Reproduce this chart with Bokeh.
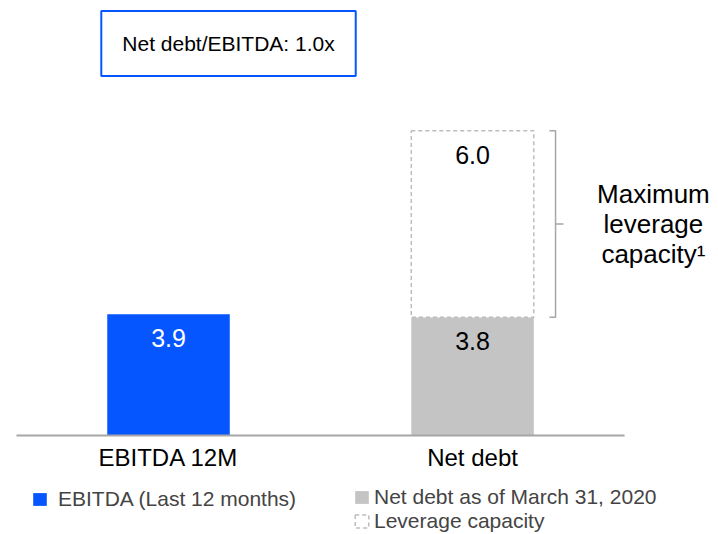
from bokeh.plotting import figure
from bokeh.models import Range1d, Label, Legend, LegendItem
from bokeh.core.properties import value
from bokeh.embed import file_html
from bokeh.resources import INLINE

# ---- data ----
categories = ["EBITDA 12M", "Net debt"]
ebitda_12m = [3.9]
net_debt = [3.8]
leverage_capacity = [6.0]
title_text = "Net debt/EBITDA: 1.0x"
bracket_label = "Maximum\nleverage\ncapacity\u00b9"
legend_labels = ["EBITDA (Last 12 months)",
                 "Net debt as of March 31, 2020",
                 "Leverage capacity"]

# ---- styles ----
FONT = "Liberation Sans"
BLUE = "#0556FF"
GREY = "#C4C4C4"
DASH_GREY = "#BDBDBD"
AXIS_GREY = "#A6A6A6"
BAR_W = 0.403
LABEL_DROP = 0.77

xpos = list(range(len(categories)))

p = figure(width=718, height=534, output_backend="svg", toolbar_location=None,
           x_range=Range1d(-0.5526, 1.809), y_range=Range1d(-3.183, 13.987),
           x_axis_location=None, y_axis_location=None, min_border=0)
p.grid.visible = False
p.outline_line_color = None
p.background_fill_color = "white"

# bars
r_ebitda = p.vbar(x=[xpos[0]], top=ebitda_12m, width=BAR_W, fill_color=BLUE,
                  line_color=None)
r_debt = p.vbar(x=[xpos[1]], top=net_debt, width=BAR_W, fill_color=GREY,
                line_color=None)
cap_top = [d + c for d, c in zip(net_debt, leverage_capacity)]
r_cap = p.vbar(x=[xpos[1]], bottom=net_debt, top=cap_top, width=BAR_W,
               fill_color="white", line_color=DASH_GREY, line_dash="4 3",
               line_width=1.5)

# baseline
p.segment(x0=[-0.5], y0=[0], x1=[1.5], y1=[0], line_color=AXIS_GREY, line_width=2)

# value labels
p.text(x=[xpos[0]], y=[ebitda_12m[0] - LABEL_DROP], text=[f"{ebitda_12m[0]:.1f}"],
       text_color="white", text_align="center", text_baseline="middle",
       text_font=value(FONT), text_font_size="25px")
p.text(x=[xpos[1]], y=[net_debt[0] - LABEL_DROP], text=[f"{net_debt[0]:.1f}"],
       text_color="black", text_align="center", text_baseline="middle",
       text_font=value(FONT), text_font_size="25px")
p.text(x=[xpos[1]], y=[cap_top[0] - LABEL_DROP], text=[f"{leverage_capacity[0]:.1f}"],
       text_color="black", text_align="center", text_baseline="middle",
       text_font=value(FONT), text_font_size="25px")

# category labels
p.text(x=xpos, y=[-0.71] * len(xpos), text=categories, text_color="black",
       text_align="center", text_baseline="middle",
       text_font=value(FONT), text_font_size="24px")

# bracket
xb = xpos[1] + 0.273
xh = xb - 0.02
xt = xb + 0.026
ymid = (net_debt[0] + cap_top[0]) / 2
p.multi_line(xs=[[xh, xb, xb, xh], [xb, xt]],
             ys=[[cap_top[0], cap_top[0], net_debt[0], net_debt[0]], [ymid, ymid]],
             line_color=AXIS_GREY, line_width=1.5)
p.text(x=[xb + 0.322], y=[ymid], text=[bracket_label], text_color="black",
       text_align="center", text_baseline="middle", text_line_height=1.0,
       text_font=value(FONT), text_font_size="26px")

# title box
p.add_layout(Label(x=228, y=491, x_units="screen", y_units="screen", text=title_text,
                   text_align="center", text_baseline="middle", text_font=FONT,
                   text_font_size="21px", text_color="black",
                   border_line_color=BLUE, border_line_width=2,
                   background_fill_color="white", padding=21))

# legends
common = dict(border_line_color=None, background_fill_alpha=0, padding=0, margin=0,
              glyph_width=17, glyph_height=16, label_height=17, spacing=0,
              label_text_font=FONT, label_text_font_size="21px")
leg1 = Legend(items=[LegendItem(label=legend_labels[0], renderers=[r_ebitda])],
              location=(31, 23), label_standoff=10, **common)
leg2a = Legend(items=[LegendItem(label=legend_labels[1], renderers=[r_debt])],
               location=(353, 25), label_standoff=4, **common)
leg2b = Legend(items=[LegendItem(label=legend_labels[2], renderers=[r_cap])],
               location=(353, 1), label_standoff=4, **common)
p.add_layout(leg1)
p.add_layout(leg2a)
p.add_layout(leg2b)

open("out.html", "w").write(file_html(p, INLINE))
